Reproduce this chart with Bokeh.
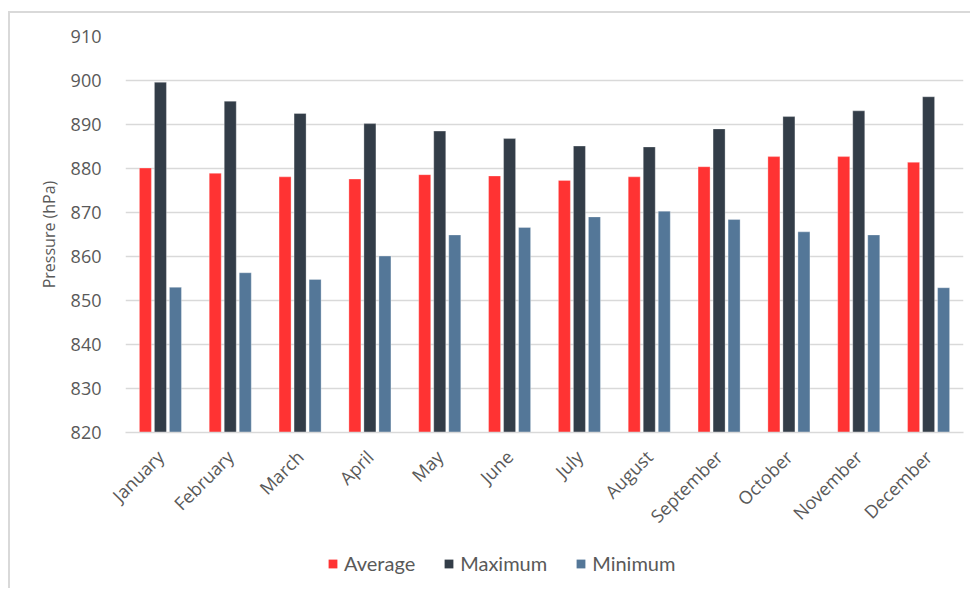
import math
from bokeh.plotting import figure
from bokeh.layouts import column
from bokeh.models import ColumnDataSource, FactorRange, Legend, LegendItem, Range1d, SingleIntervalTicker
from bokeh.transform import dodge
from bokeh.embed import file_html
from bokeh.resources import INLINE

months = ["January", "February", "March", "April", "May", "June", "July",
          "August", "September", "October", "November", "December"]
average = [880.1, 878.9, 878.1, 877.6, 878.6, 878.3, 877.3, 878.1, 880.4, 882.7, 882.7, 881.4]
maximum = [899.6, 895.3, 892.5, 890.2, 888.5, 886.8, 885.1, 884.9, 889.0, 891.8, 893.1, 896.3]
minimum = [853.0, 856.3, 854.8, 860.1, 864.9, 866.6, 869.0, 870.3, 868.4, 865.6, 864.9, 852.9]
series_names = ["Average", "Maximum", "Minimum"]
series_keys = ["average", "maximum", "minimum"]
colors = ["#FF3333", "#333D48", "#547798"]

src = ColumnDataSource(dict(month=months, average=average, maximum=maximum, minimum=minimum))

W, H = 962, 525
xr = FactorRange(*months, range_padding=0)
p = figure(x_range=xr, y_range=Range1d(820, 910),
           width=W, height=H, output_backend="svg", toolbar_location=None,
           min_border_left=115, min_border_right=9, min_border_top=23, min_border_bottom=105)
p.styles = {"border-left": "2px solid #d9d9d9", "border-top": "2px solid #d9d9d9",
            "margin-top": "11px", "margin-left": "8px"}

offs = [-0.215, 0.0, 0.215]
for key, off, c in zip(series_keys, offs, colors):
    p.vbar(x=dodge("month", off, range=xr), top=key, bottom=820, width=0.172,
           source=src, fill_color=c, line_color="white", line_width=0.6, line_alpha=0.5)

p.outline_line_color = None
p.xgrid.grid_line_color = None
p.ygrid.grid_line_color = "#d9d9d9"
p.ygrid.grid_line_width = 1.5
p.yaxis.ticker = SingleIntervalTicker(interval=10)
p.yaxis.axis_line_color = None
p.yaxis.major_tick_line_color = None
p.yaxis.minor_tick_line_color = None
p.yaxis.major_label_text_font = "Open Sans"
p.yaxis.major_label_text_font_size = "18px"
p.yaxis.major_label_text_color = "#595959"
p.yaxis.major_label_standoff = 18
p.yaxis.axis_label = "Pressure (hPa)"
p.yaxis.axis_label_text_font = "Open Sans"
p.yaxis.axis_label_text_font_size = "16px"
p.yaxis.axis_label_text_font_style = "normal"
p.yaxis.axis_label_text_color = "#595959"
p.yaxis.axis_label_standoff = 8

p.xaxis.axis_line_color = "#d9d9d9"
p.xaxis.axis_line_width = 1.5
p.xaxis.major_tick_line_color = None
p.xaxis.minor_tick_line_color = None
p.xaxis.major_label_orientation = math.pi / 4
p.xaxis.major_label_text_font = "Open Sans"
p.xaxis.major_label_text_font_size = "18px"
p.xaxis.major_label_text_color = "#595959"
p.xaxis.major_label_standoff = 15

# legend strip below the chart (zero-width proxy bars: only their legend swatches show)
p2 = figure(x_range=xr, y_range=Range1d(0, 1), width=W, height=52,
            output_backend="svg", toolbar_location=None, min_border=0,
            x_axis_location=None, y_axis_location=None)
p2.styles = {"border-left": "2px solid #d9d9d9", "margin-left": "8px"}
p2.grid.grid_line_color = None
p2.outline_line_color = None
leg_r = [p2.vbar(x="month", top=key, bottom=820, width=0, source=src, fill_color=c, line_color=None)
         for key, c in zip(series_keys, colors)]
legend = Legend(items=[LegendItem(label=n, renderers=[r]) for n, r in zip(series_names, leg_r)],
                orientation="horizontal", location=(202, 13),
                glyph_width=11, glyph_height=11, label_standoff=6, spacing=28,
                label_text_font="Lato", label_text_font_size="20px", label_text_color="#595959",
                border_line_color=None, background_fill_alpha=0, padding=4, margin=0)
p2.add_layout(legend, "center")

layout = column(p, p2, spacing=0)
open("out.html", "w").write(file_html(layout, INLINE))
